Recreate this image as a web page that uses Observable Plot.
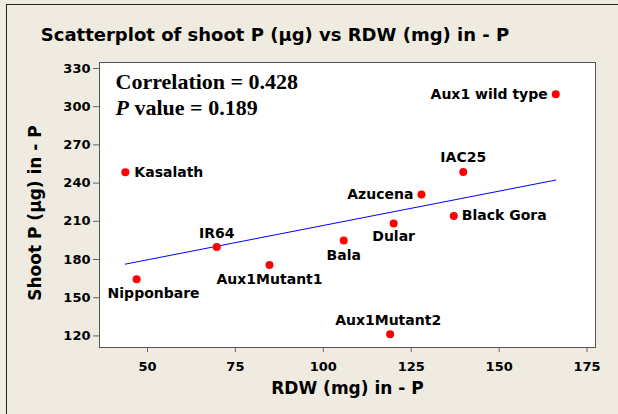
<!DOCTYPE html>
<html>
<head>
<meta charset="utf-8">
<script src="https://cdn.jsdelivr.net/npm/d3@7"></script>
<script src="https://cdn.jsdelivr.net/npm/@observablehq/plot@0.6"></script>
<style>
  html, body { margin: 0; padding: 0; }
  body { width: 618px; height: 414px; background: #EFEBE1; position: relative; overflow: hidden; }
  #border { position: absolute; left: 6px; top: 4px; right: 0; bottom: 0; border-left: 1.5px solid #222; border-top: 1.5px solid #222; pointer-events: none; }
  #title { position: absolute; left: 0; top: 24px; width: 550px; text-align: center; font-family: "DejaVu Sans", sans-serif; font-weight: bold; font-size: 18px; color: #000; }
  #chart { position: absolute; left: 0; top: 50px; }
</style>
</head>
<body>
<div id="border"></div>
<div id="title"></div>
<div id="chart"></div>
<script>
const cultivars = ["Kasalath", "Nipponbare", "IR64", "Aux1Mutant1", "Bala", "Dular", "Aux1Mutant2", "Aux1 wild type", "IAC25", "Azucena", "Black Gora"];
const rdw = [43.7, 46.9, 69.7, 84.7, 105.8, 120.0, 119.0, 166.1, 139.8, 127.9, 137.1];
const shootP = [248.5, 164.5, 189.9, 175.7, 194.9, 208.2, 121.3, 309.8, 248.8, 231.0, 214.2];
const xTicks = [50, 75, 100, 125, 150, 175];
const yTicks = [120, 150, 180, 210, 240, 270, 300, 330];
const titleText = "Scatterplot of shoot P (µg) vs RDW (mg) in - P";
const xLabel = "RDW (mg) in - P";
const yLabel = "Shoot P (µg) in - P";
const corrText = "Correlation = 0.428";
const pText = "value = 0.189";

document.getElementById("title").textContent = titleText;

const data = cultivars.map((name, i) => ({name, x: rdw[i], y: shootP[i]}));

// label placement relative to each point
const place = {
  "Kasalath": {dx: 9, dy: 0, anchor: "start"},
  "Nipponbare": {dx: 17, dy: 14, anchor: "middle"},
  "IR64": {dx: 0, dy: -13, anchor: "middle"},
  "Aux1Mutant1": {dx: 0, dy: 15, anchor: "middle"},
  "Bala": {dx: 0, dy: 15, anchor: "middle"},
  "Dular": {dx: 0, dy: 13, anchor: "middle"},
  "Aux1Mutant2": {dx: -2, dy: -14, anchor: "middle"},
  "Aux1 wild type": {dx: -8, dy: 0, anchor: "end"},
  "IAC25": {dx: 0, dy: -14, anchor: "middle"},
  "Azucena": {dx: -8, dy: 0, anchor: "end"},
  "Black Gora": {dx: 8, dy: 0, anchor: "start"}
};

const labelMarks = data.map(d => Plot.text([d], {
  x: "x", y: "y", text: "name",
  dx: place[d.name].dx, dy: place[d.name].dy, textAnchor: place[d.name].anchor,
  fontSize: 14, fontWeight: "bold", fill: "#000"
}));

const serif = "Liberation Serif, Times New Roman, serif";

const chart = Plot.plot({
  width: 618,
  height: 364,
  marginTop: 12,
  marginBottom: 67,
  marginLeft: 99,
  marginRight: 23,
  style: {background: "transparent", fontFamily: "DejaVu Sans, sans-serif", fontWeight: "bold", fontSize: "13px", color: "#000"},
  x: {domain: [36.35, 177.4]},
  y: {domain: [110.9, 334.7]},
  marks: [
    Plot.frame({fill: "white", stroke: "#555"}),
    Plot.axisX({ticks: xTicks, tickSize: 5, tickPadding: 9, label: null, stroke: "#666", fill: "#000", fontSize: 13, fontWeight: "bold"}),
    Plot.axisY({ticks: yTicks, tickSize: 6, tickPadding: 3, label: null, stroke: "#666", fill: "#000", fontSize: 13, fontWeight: "bold"}),
    Plot.linearRegressionY(data, {x: "x", y: "y", stroke: "#0000FF", strokeWidth: 1, ci: 0}),
    Plot.dot(data, {x: "x", y: "y", r: 4, fill: "#FF0000", stroke: "none"}),
    ...labelMarks,
    Plot.text([corrText], {frameAnchor: "top-left", textAnchor: "start", lineAnchor: "middle", dx: 16, dy: 19, fontFamily: serif, fontWeight: "bold", fontSize: 22, fill: "#000"}),
    Plot.text(["P"], {frameAnchor: "top-left", textAnchor: "start", lineAnchor: "middle", dx: 16, dy: 45, fontFamily: serif, fontWeight: "bold", fontStyle: "italic", fontSize: 22, fill: "#000"}),
    Plot.text([pText], {frameAnchor: "top-left", textAnchor: "start", lineAnchor: "middle", dx: 35, dy: 45, fontFamily: serif, fontWeight: "bold", fontSize: 22, fill: "#000"}),
    Plot.text([xLabel], {frameAnchor: "bottom", textAnchor: "middle", lineAnchor: "middle", dy: 41, fontSize: 17, fontWeight: "bold", fill: "#000"}),
    Plot.text([yLabel], {frameAnchor: "left", textAnchor: "middle", lineAnchor: "middle", rotate: -90, dx: -64, dy: 8, fontSize: 17, fontWeight: "bold", fill: "#000"})
  ]
});
document.getElementById("chart").appendChild(chart);
</script>
</body>
</html>
